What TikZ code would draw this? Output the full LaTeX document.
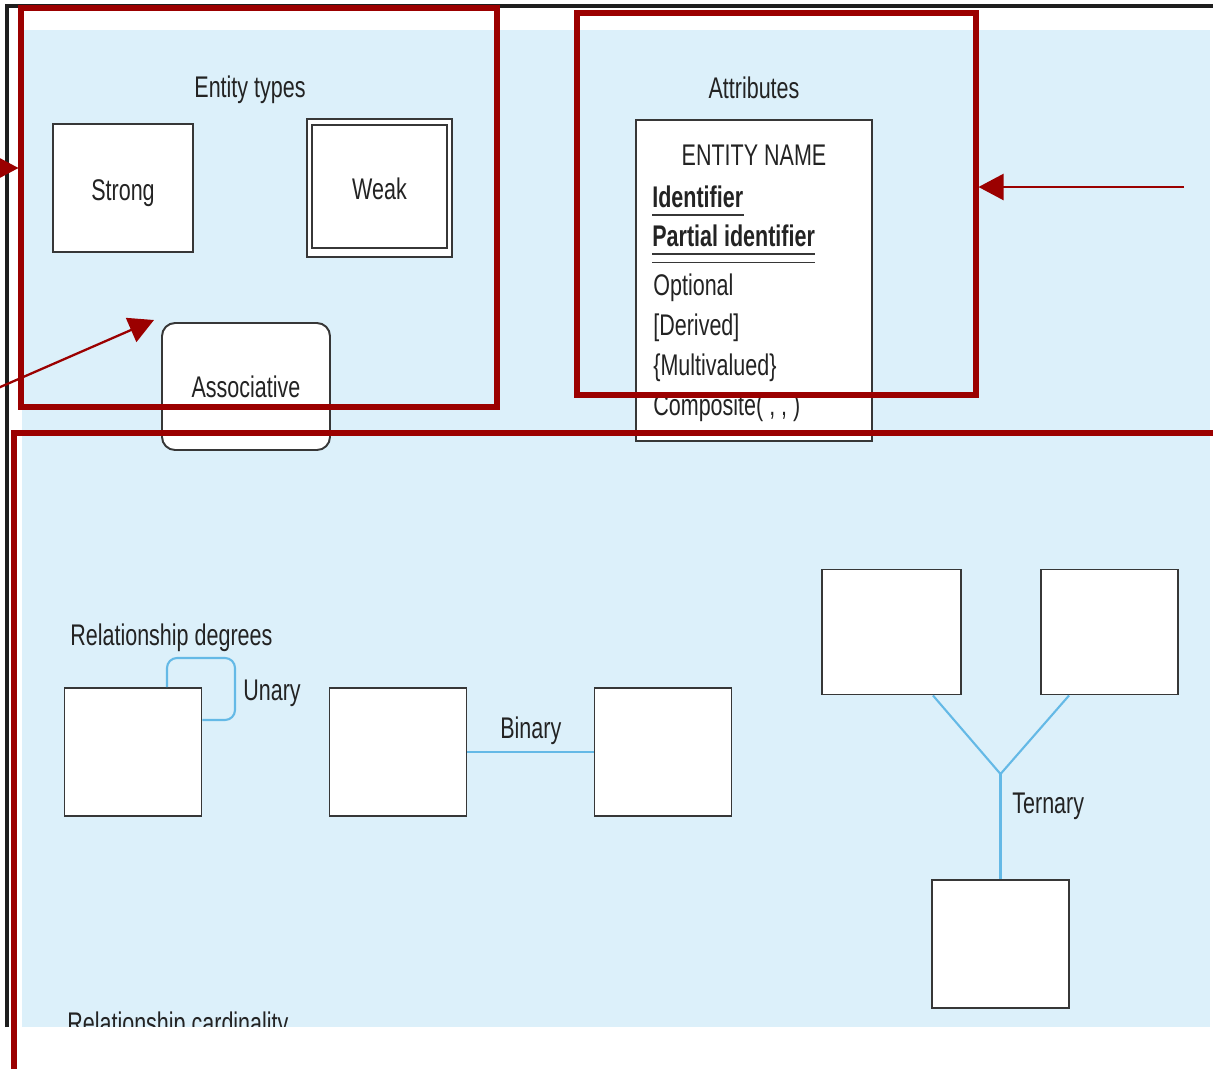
\documentclass[tikz,border=0pt]{standalone}
\usepackage{fontspec}
\setmainfont{Liberation Sans}[FakeStretch=0.72]
\usetikzlibrary{arrows.meta}

\definecolor{panel}{RGB}{220,240,250}
\definecolor{hl}{RGB}{155,0,0}
\definecolor{linkblue}{RGB}{100,185,230}
\definecolor{edgegray}{RGB}{55,55,55}
\definecolor{framegray}{RGB}{30,30,30}
\definecolor{ink}{RGB}{35,35,35}

\begin{document}
\begin{tikzpicture}[x=0.02cm, y=-0.02cm,
  font=\fontsize{17}{20}\selectfont,
  entbox/.style={draw=edgegray, fill=white, line width=1.1pt, inner sep=0pt},
  relbox/.style={entbox, minimum width=2.74cm, minimum height=2.56cm},
  txt/.style={inner sep=0pt, text=ink, anchor=base},
  txtw/.style={inner sep=0pt, text=ink, anchor=base west},
  uline/.style={draw=edgegray, line width=1pt},
  rel/.style={draw=linkblue, line width=1.2pt},
  hlbox/.style={draw=hl, line width=2.9pt},
  hlarrow/.style={draw=hl, line width=1.3pt, -{Triangle[length=0.5cm,width=0.52cm]}}]

% page and shaded panel
\useasboundingbox (0,0) rectangle (1213,1069);
\fill[white] (0,0) rectangle (1213,1069);
\fill[panel] (22,30) rectangle (1210,1027);
\node[txtw] (cardtxt) at (67,1033) {Relationship cardinality};
\fill[white] (0,1027) rectangle (1213,1069);
\draw[framegray, line width=2pt] (7,1027) -- (7,6) -- (1213,6);

% entity types
\node[txt] (etypes) at (250,97) {Entity types};
\node[entbox, minimum width=2.8cm, minimum height=2.56cm] (strong) at (123,188) {};
\node[txt] (strongtxt) at (123,200) {Strong};
\node[entbox, minimum width=2.9cm, minimum height=2.76cm] (weak) at (379.5,188) {};
\node[draw=edgegray, line width=1.1pt, inner sep=0pt, minimum width=2.7cm, minimum height=2.46cm] (weakin) at (379.5,186.5) {};
\node[txt] (weaktxt) at (379.5,199) {Weak};
\node[entbox, rounded corners=0.26cm, minimum width=3.36cm, minimum height=2.54cm] (assoc) at (246,386.5) {};
\node[txt] (assoctxt) at (246,397) {Associative};

% attributes
\node[txt] (attr) at (754,98) {Attributes};
\node[entbox, minimum width=4.72cm, minimum height=6.42cm] (ent) at (754,280.5) {};
\node[txt] (ename) at (754,165) {ENTITY NAME};
\node[txtw] (ident) at (652,207) {\textbf{Identifier}};
\node[txtw] (pident) at (652,246) {\textbf{Partial identifier}};
\draw[uline] ([yshift=-0.16cm]ident.base west) -- ([yshift=-0.16cm]ident.base east);
\draw[uline] ([yshift=-0.16cm]pident.base west) -- ([yshift=-0.16cm]pident.base east);
\draw[uline] ([yshift=-0.33cm]pident.base west) -- ([yshift=-0.33cm]pident.base east);
\node[txtw] (opt) at (653,295) {Optional};
\node[txtw] (der) at (653,335) {[Derived]};
\node[txtw] (multi) at (653,375) {\{Multivalued\}};
\node[txtw] (comp) at (653,415) {Composite( , , )};

% relationship degrees
\node[txtw] (rdeg) at (70,645) {Relationship degrees};
\node[relbox] (u1) at (133,752) {};
\coordinate (uloop) at (235,658);
\coordinate (ulow) at (202,720);
\draw[rel, rounded corners=0.2cm] ([xshift=0.68cm]u1.north) |- (uloop) |- (u1.east |- ulow);
\node[txtw] (unary) at (243,700) {Unary};

\node[relbox] (b1) at (398,752) {};
\node[relbox] (b2) at (663,752) {};
\draw[rel] (b1.east) -- (b2.west);
\node[txtw] (binary) at (500,738) {Binary};

\node[entbox, minimum width=2.78cm, minimum height=2.5cm] (t1) at (891.5,632) {};
\node[entbox, minimum width=2.74cm, minimum height=2.5cm] (t2) at (1109.5,632) {};
\node[entbox, minimum width=2.74cm, minimum height=2.56cm] (t3) at (1000.5,944) {};
\coordinate (tj) at (1000.5,774);
\draw[rel] ([xshift=-0.58cm]t1.south east) -- (tj) -- ([xshift=0.58cm]t2.south west);
\draw[rel] (tj) -- (t3.north);
\node[txtw] (ternary) at (1012,813) {Ternary};

% highlight frames
\draw[hlbox] (21,8) rectangle (497,407);
\draw[hlbox] (577,13) rectangle (976,395);
\draw[hlbox] (1213,433) -- (14,433) -- (14,1069);

% highlight arrows
\coordinate (la) at (-12,168);
\coordinate (lb) at (18.5,168);
\coordinate (da) at (-2,388);
\coordinate (db) at (154,320);
\coordinate (ra) at (1184,187);
\coordinate (rb) at (978.5,187);
\draw[hlarrow] (la) -- (lb);
\draw[hlarrow] (da) -- (db);
\draw[hlarrow] (ra) -- (rb);
\end{tikzpicture}
\end{document}
